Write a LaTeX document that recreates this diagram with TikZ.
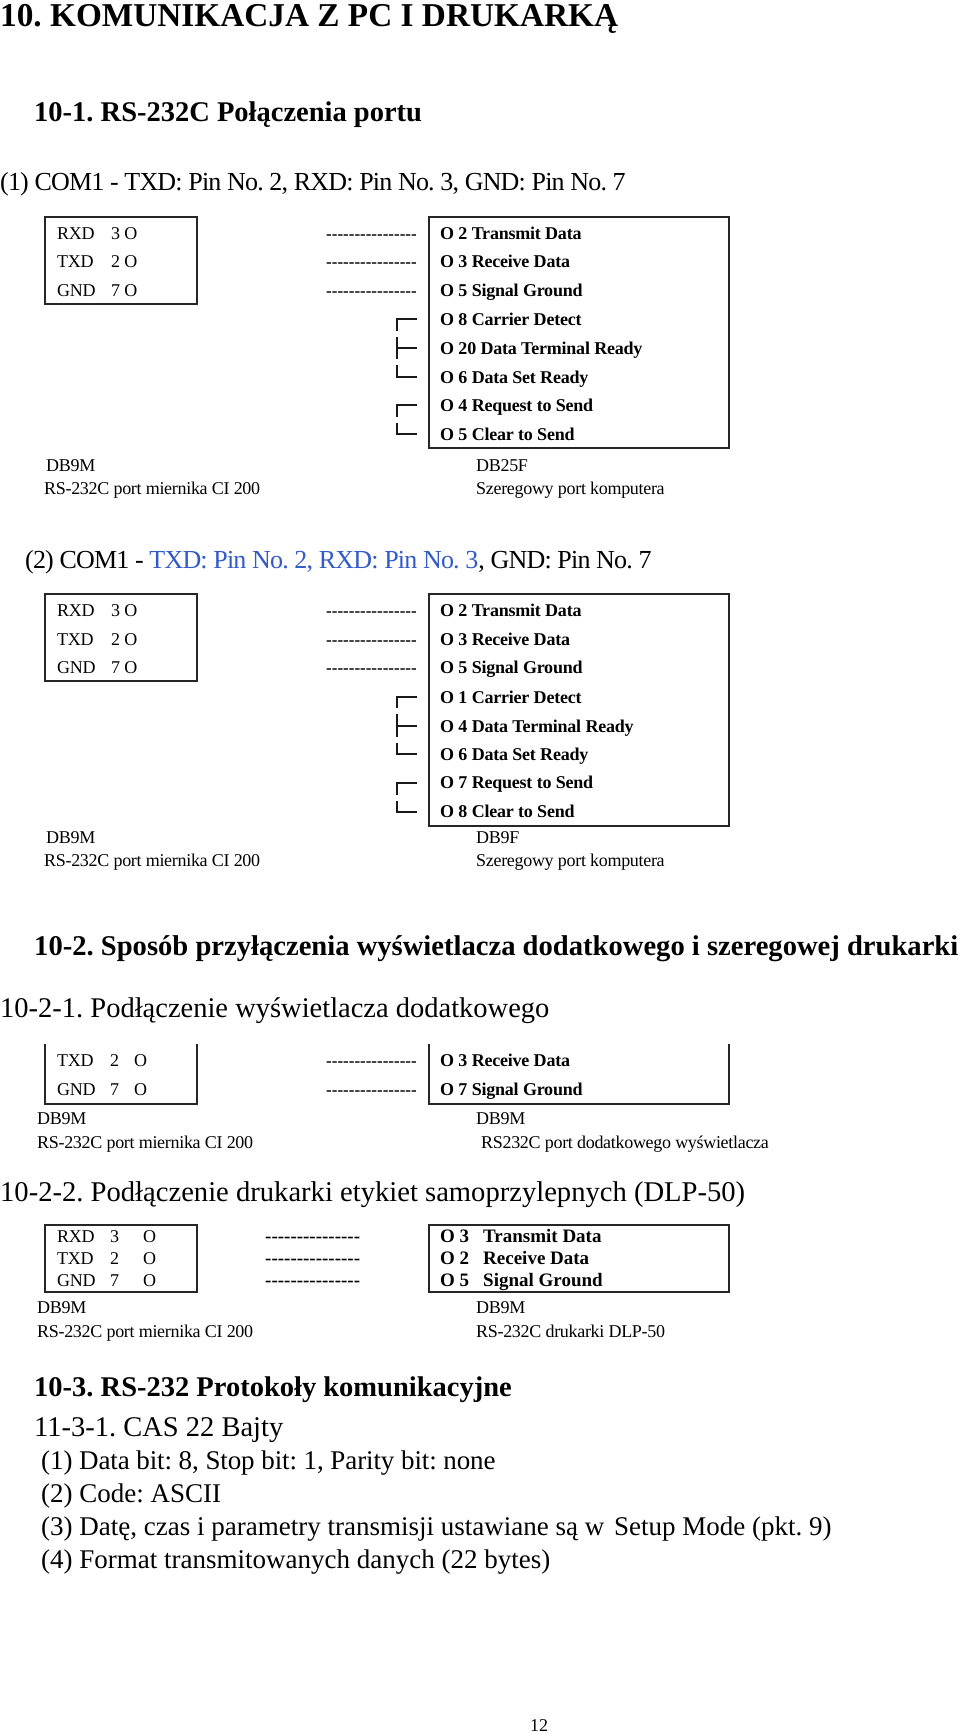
\documentclass[tikz,border=0pt]{standalone}
\usepackage{fontspec}
\setmainfont{Liberation Serif}
\definecolor{linkblue}{RGB}{50,90,200}
\newcommand{\dashrun}{-{}-{}-{}-{}-{}-{}-{}-{}-{}-{}-{}-{}-{}-{}-{}-}
\newcommand{\dashruns}{-{}-{}-{}-{}-{}-{}-{}-{}-{}-{}-{}-{}-{}-{}-}
\tikzset{
  txt/.style={anchor=base west,inner sep=0pt,font=\frenchspacing\fontsize{#1}{#1}\selectfont},
  txt/.default=19,
  narrow/.style={anchor=base west,inner sep=0pt,font=\frenchspacing\fontsize{26}{26}\selectfont\addfontfeature{LetterSpace=-3.1}},
  tight/.style={anchor=base west,inner sep=0pt,font=\frenchspacing\fontsize{18}{18}\selectfont\addfontfeature{LetterSpace=-1.7}},
  pin/.style={anchor=base west,inner sep=0pt,font=\frenchspacing\fontsize{18}{18}\selectfont\bfseries\addfontfeature{LetterSpace=-1.2}},
  pinwide/.style={anchor=base west,inner sep=0pt,font=\frenchspacing\fontsize{19}{19}\selectfont\bfseries},
  dashrow/.style={anchor=base west,inner sep=0pt,font=\fontsize{#1}{#1}\selectfont\bfseries},
  head/.style={anchor=base west,inner sep=0pt,font=\frenchspacing\fontsize{#1}{#1}\selectfont\bfseries},
  frame/.style={line width=1.1pt,black!85},
  link/.style={line width=1.5pt,black!90}
}
\begin{document}
\begin{tikzpicture}[x=1pt,y=-1pt]
\useasboundingbox (0,0) rectangle (960,1733);
\fill[white] (0,0) rectangle (960,1733);
% Headings
\node[head=33.3] (title) at (0,26) {10. KOMUNIKACJA Z PC I DRUKARKĄ};
\node[head=28.5] (sec1) at (34,121) {10-1. RS-232C Połączenia portu};
\node[narrow] (com1) at (0,190) {(1) COM1 - TXD: Pin No. 2, RXD: Pin No. 3, GND: Pin No. 7};
% First connector pair
\draw[frame] (45,217) rectangle (197,304);
\draw[frame] (429,217) rectangle (729,448);
\foreach \y/\n/\pa/\pb in {239/rxd/RXD/3 O,267/txd/TXD/2 O,296/gnd/GND/7 O} {
  \node[tight] (\n a) at (57,\y) {\pa};
  \node[tight] (\n b) at (111,\y) {\pb};
  \node[dashrow=17] (\n c) at (326,\y) {\dashrun};
}
\foreach \y/\n/\t in {239/a/2 Transmit Data,267/b/3 Receive Data,296/c/5 Signal Ground,325/d/8 Carrier Detect,354/e/20 Data Terminal Ready,383/f/6 Data Set Ready,411/g/4 Request to Send,440/h/5 Clear to Send} {
  \node[pin] (r\n) at (440,\y) {O \t};
}
% Jumpers
\coordinate (j1a) at (417,319); \coordinate (j1b) at (397,319);
\coordinate (j1c) at (397,331); \coordinate (j1d) at (397,337);
\coordinate (j1e) at (397,359); \coordinate (j1f) at (417,348);
\coordinate (j1g) at (397,348); \coordinate (j1h) at (397,365);
\coordinate (j1i) at (397,377); \coordinate (j1j) at (417,377);
\draw[link] (j1a) -- (j1b) -- (j1c);
\draw[link] (j1d) -- (j1e);
\draw[link] (j1f) -- (j1g);
\draw[link] (j1h) -- (j1i) -- (j1j);
\coordinate (j2a) at (417,405); \coordinate (j2b) at (397,405);
\coordinate (j2c) at (397,417); \coordinate (j2d) at (397,423);
\coordinate (j2e) at (397,434); \coordinate (j2f) at (417,434);
\draw[link] (j2a) -- (j2b) -- (j2c);
\draw[link] (j2d) -- (j2e) -- (j2f);
\node[tight] (m1) at (46,471) {DB9M};
\node[tight] (m2) at (44,494) {RS-232C port miernika CI 200};
\node[tight] (f1) at (476,471) {DB25F};
\node[tight] (f2) at (476,494) {Szeregowy port komputera};
% Second connector pair
\node[narrow] (com2) at (25,568) {(2) COM1 - \textcolor{linkblue}{TXD: Pin No. 2, RXD: Pin No. 3}, GND: Pin No. 7};
\draw[frame] (45,594) rectangle (197,681);
\draw[frame] (429,594) rectangle (729,826);
\foreach \y/\n/\pa/\pb in {616/srxd/RXD/3 O,645/stxd/TXD/2 O,673/sgnd/GND/7 O} {
  \node[tight] (\n a) at (57,\y) {\pa};
  \node[tight] (\n b) at (111,\y) {\pb};
  \node[dashrow=17] (\n c) at (326,\y) {\dashrun};
}
\foreach \y/\n/\t in {616/a/2 Transmit Data,645/b/3 Receive Data,673/c/5 Signal Ground,703/d/1 Carrier Detect,732/e/4 Data Terminal Ready,760/f/6 Data Set Ready,788/g/7 Request to Send,817/h/8 Clear to Send} {
  \node[pin] (s\n) at (440,\y) {O \t};
}
\coordinate (k1a) at (417,697); \coordinate (k1b) at (397,697);
\coordinate (k1c) at (397,708); \coordinate (k1d) at (397,714);
\coordinate (k1e) at (397,737); \coordinate (k1f) at (417,726);
\coordinate (k1g) at (397,726); \coordinate (k1h) at (397,743);
\coordinate (k1i) at (397,754); \coordinate (k1j) at (417,754);
\draw[link] (k1a) -- (k1b) -- (k1c);
\draw[link] (k1d) -- (k1e);
\draw[link] (k1f) -- (k1g);
\draw[link] (k1h) -- (k1i) -- (k1j);
\coordinate (k2a) at (417,783); \coordinate (k2b) at (397,783);
\coordinate (k2c) at (397,795); \coordinate (k2d) at (397,801);
\coordinate (k2e) at (397,812); \coordinate (k2f) at (417,812);
\draw[link] (k2a) -- (k2b) -- (k2c);
\draw[link] (k2d) -- (k2e) -- (k2f);
\node[tight] (n1) at (46,843) {DB9M};
\node[tight] (n2) at (44,866) {RS-232C port miernika CI 200};
\node[tight] (g1) at (476,843) {DB9F};
\node[tight] (g2) at (476,866) {Szeregowy port komputera};
% Section 10-2
\node[head=28.6] (sec2) at (34,955) {10-2. Sposób przyłączenia wyświetlacza dodatkowego i szeregowej drukarki};
\node[txt=28.5] (sub1) at (0,1017) {10-2-1. Podłączenie wyświetlacza dodatkowego};
\draw[frame] (45,1044) -- (45,1104) -- (197,1104) -- (197,1044);
\draw[frame] (429,1044) -- (429,1104) -- (729,1104) -- (729,1044);
\foreach \y/\n/\pa/\pb in {1066/txd/TXD/2,1095/gnd/GND/7} {
  \node[tight] (t\n a) at (57,\y) {\pa};
  \node[tight] (t\n b) at (110,\y) {\pb};
  \node[tight] (t\n o) at (134,\y) {O};
  \node[dashrow=17] (t\n c) at (326,\y) {\dashrun};
}
\node[pin] (ta) at (440,1066) {O 3 Receive Data};
\node[pin] (tb) at (440,1095) {O 7 Signal Ground};
\node[tight] (o1) at (37,1124) {DB9M};
\node[tight] (o2) at (37,1148) {RS-232C port miernika CI 200};
\node[tight] (p1) at (476,1124) {DB9M};
\node[tight] (p2) at (481,1148) {RS232C port dodatkowego wyświetlacza};
\node[txt=28.6] (sub2) at (0,1201) {10-2-2. Podłączenie drukarki etykiet samoprzylepnych (DLP-50)};
\draw[frame] (45,1225) rectangle (197,1292);
\draw[frame] (429,1225) rectangle (729,1292);
\foreach \y/\n/\pa/\pb/\pc/\pd in {1242/rxd/RXD/3/3/Transmit Data,1264/txd/TXD/2/2/Receive Data,1286/gnd/GND/7/5/Signal Ground} {
  \node[tight] (u\n a) at (57,\y) {\pa};
  \node[tight] (u\n b) at (110,\y) {\pb};
  \node[tight] (u\n o) at (143,\y) {O};
  \node[dashrow=19] (u\n c) at (265,\y) {\dashruns};
  \node[pinwide] (u\n d) at (440,\y) {O \pc};
  \node[pinwide] (u\n e) at (483,\y) {\pd};
}
\node[tight] (q1) at (37,1313) {DB9M};
\node[tight] (q2) at (37,1337) {RS-232C port miernika CI 200};
\node[tight] (v1) at (476,1313) {DB9M};
\node[tight] (v2) at (476,1337) {RS-232C drukarki DLP-50};
% Section 10-3
\node[head=28.5] (sec3) at (34,1396) {10-3. RS-232 Protokoły komunikacyjne};
\node[txt=28.5] (l1) at (34,1436) {11-3-1. CAS 22 Bajty};
\node[txt=27] (l2) at (41,1469) {\addfontfeature{LetterSpace=-0.4}(1) Data bit: 8, Stop bit: 1, Parity bit: none};
\node[txt=27] (l3) at (41,1502) {(2) Code: ASCII};
\node[txt=27] (l4) at (41,1535) {(3) Datę, czas i parametry transmisji ustawiane są w\hspace{3pt} Setup Mode (pkt. 9)};
\node[txt=27] (l5) at (41,1568) {(4) Format transmitowanych danych (22 bytes)};
\node[txt=18] (pg) at (530,1731) {12};
\end{tikzpicture}
\end{document}
